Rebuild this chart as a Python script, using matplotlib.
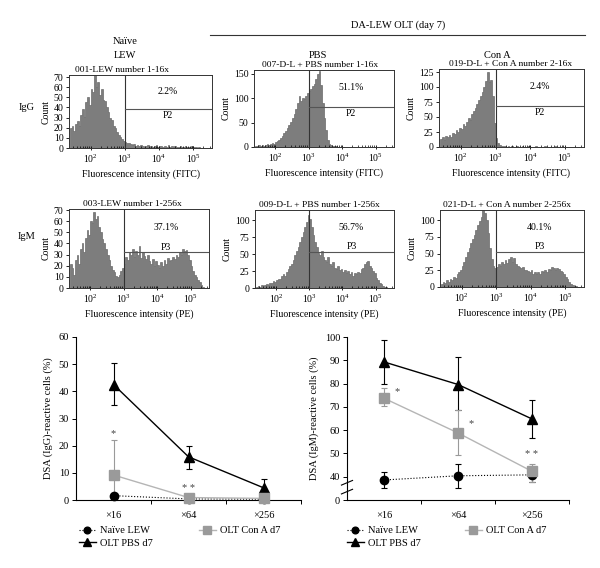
import matplotlib
matplotlib.use("Agg")
import matplotlib.pyplot as plt
import numpy as np
from matplotlib.lines import Line2D
from matplotlib.ticker import LogLocator, NullFormatter, FixedLocator

plt.rcParams["font.family"] = ["Liberation Serif", "DejaVu Serif"]
plt.rcParams["mathtext.fontset"] = "stix"

W, H = 600, 568

# ---- flow cytometry histograms (counts per log bin, 0.05 decade bins from 10^1.4) ----
hist_igg_naive = [
    20, 22, 17, 24, 27, 22, 33, 38, 31, 45,
    50, 42, 58, 55, 72, 60, 65, 52, 58, 47,
    46, 40, 36, 30, 28, 22, 20, 16, 13, 11,
    9, 7, 6, 5, 5, 4, 3, 4, 2, 3,
    2, 3, 2, 1, 2, 3, 1, 2, 1, 2,
    3, 1, 2, 2, 1, 2, 1, 3, 1, 2,
    1, 2, 1, 1, 2, 1, 1, 2, 1, 1,
    1, 2, 1, 1, 0, 1, 0, 0, 0, 0, 0,
]
hist_igg_pbs = [
    3, 2, 4, 3, 5, 3, 4, 6, 4, 7,
    8, 7, 10, 12, 15, 18, 22, 28, 33, 38,
    45, 52, 60, 68, 78, 90, 105, 95, 100, 98,
    105, 110, 115, 120, 125, 130, 140, 150, 155, 128,
    90, 60, 35, 15, 7, 4, 3, 2, 2, 1,
    1, 0, 1, 1, 0, 1, 1, 0, 1, 0,
    1, 0, 1, 0, 0, 1, 0, 1, 0, 0,
    1, 0, 0, 0, 0, 0, 0, 0, 0, 0, 0,
]
hist_igg_cona = [
    14, 17, 12, 18, 16, 20, 17, 24, 22, 28,
    25, 32, 30, 38, 35, 42, 48, 45, 55, 60,
    65, 72, 78, 85, 92, 100, 110, 125, 108, 112,
    85, 40, 15, 6, 3, 2, 1, 1, 0, 1,
    0, 1, 0, 0, 1, 0, 0, 1, 0, 0,
    0, 1, 0, 0, 0, 1, 0, 0, 0, 0,
    1, 0, 0, 0, 0, 0, 1, 0, 0, 0,
    0, 0, 0, 0, 0, 0, 0, 0, 0, 0, 0,
]
hist_igm_naive = [
    22, 18, 12, 25, 30, 22, 35, 40, 32, 45,
    52, 48, 60, 58, 68, 62, 65, 55, 50, 44,
    40, 35, 30, 25, 20, 16, 14, 11, 10, 12,
    15, 18, 22, 28, 25, 32, 30, 35, 28, 33,
    30, 38, 27, 32, 29, 26, 30, 24, 22, 26,
    20, 24, 21, 18, 23, 20, 25, 22, 27, 24,
    25, 28, 26, 30, 28, 32, 30, 35, 33, 34,
    30, 25, 20, 15, 12, 10, 7, 5, 3, 1, 0,
]
hist_igm_pbs = [
    2, 3, 2, 4, 3, 5, 6, 5, 8, 7,
    10, 9, 12, 14, 13, 17, 20, 18, 24, 28,
    32, 36, 42, 48, 55, 60, 68, 75, 82, 90,
    98, 108, 102, 90, 78, 68, 60, 52, 48, 55,
    45, 42, 38, 45, 36, 33, 38, 30, 28, 32,
    26, 28, 24, 27, 22, 25, 20, 23, 18, 22,
    20, 24, 22, 28, 30, 36, 38, 40, 33, 30,
    25, 22, 15, 12, 8, 6, 3, 2, 1, 0, 0,
]
hist_igm_cona = [
    5, 8, 6, 10, 8, 12, 10, 15, 14, 20,
    22, 25, 32, 38, 45, 52, 58, 65, 72, 78,
    85, 92, 98, 105, 115, 110, 100, 80, 58, 42,
    32, 28, 30, 35, 32, 38, 35, 40, 36, 42,
    45, 38, 44, 35, 32, 30, 28, 30, 26, 25,
    24, 22, 26, 20, 23, 19, 22, 20, 24, 22,
    25, 23, 27, 26, 30, 28, 25, 29, 27, 24,
    22, 20, 15, 12, 8, 5, 3, 2, 1, 0, 0,
]

hist_titles = [
    "001-LEW number 1-16x", "007-D-L + PBS number 1-16x", "019-D-L + Con A number 2-16x",
    "003-LEW number 1-256x", "009-D-L + PBS number 1-256x", "021-D-L + Con A number 2-256x",
]
hist_pcts = ["2.2%", "51.1%", "2.4%", "37.1%", "56.7%", "40.1%"]
hist_gates = [38, 82, 68, 32, 53, 53]

# ---- titration summary: mean, lower and upper end of error bar ----
dilutions = ["\u00d716", "\u00d764", "\u00d7256"]

igg_naive = [1.6, 0.4, 0.3]
igg_naive_lo = [1.0, 0.2, 0.1]
igg_naive_hi = [2.2, 0.7, 0.5]
igg_pbs = [42.5, 15.9, 4.5]
igg_pbs_lo = [35.1, 11.5, 1.2]
igg_pbs_hi = [50.4, 20.0, 7.8]
igg_cona = [9.2, 0.9, 0.6]
igg_cona_lo = [0.0, 0.3, 0.2]
igg_cona_hi = [22.2, 1.6, 1.0]

igm_naive = [38.6, 40.4, 40.8]
igm_naive_lo = [35.0, 35.1, 37.9]
igm_naive_hi = [42.2, 45.4, 43.5]
igm_pbs = [89.3, 79.6, 64.8]
igm_pbs_lo = [79.8, 68.6, 56.5]
igm_pbs_hi = [98.6, 91.2, 73.0]
igm_cona = [73.7, 58.8, 42.3]
igm_cona_lo = [70.3, 49.4, 37.8]
igm_cona_hi = [78.0, 68.5, 45.4]

igg_star_x = [0.0, 1.0]
igg_star_y = [24.5, 4.2]
igg_star_txt = ["*", "* *"]
igm_star_x = [0.18, 1.18, 2.0]
igm_star_y = [76.5, 63.0, 49.4]
igm_star_txt = ["*", "*", "* *"]


def box(x0, y0, x1, y1):
    return [x0 / W, 1 - y1 / H, (x1 - x0) / W, (y1 - y0) / H]


fig = plt.figure(figsize=(6, 5.68), dpi=100)

edges = np.logspace(1.4, 5.45, 82)
xmin, xmax = 10 ** 1.37, 10 ** 5.55

hist_data = [hist_igg_naive, hist_igg_pbs, hist_igg_cona,
             hist_igm_naive, hist_igm_pbs, hist_igm_cona]
hist_boxes = [(69, 75, 212, 148), (254, 70, 394, 147), (439, 69, 584, 147),
              (69, 209, 209, 288), (255, 210, 394, 288), (440, 210, 584, 287)]
hist_ymax = [72, 158, 130, 71, 115, 115]
hist_yticks = [range(0, 71, 10), [0, 50, 100, 150], range(0, 126, 25),
               range(0, 71, 10), range(0, 101, 25), range(0, 101, 25)]
title_x = [122, 320, 511, 132, 319, 507]

for k in range(6):
    ax = fig.add_axes(box(*hist_boxes[k]))
    ax.stairs(hist_data[k], edges, fill=True, facecolor="#7d7d7d",
              edgecolor="#555555", linewidth=0.4)
    ax.set_xscale("log")
    ax.set_xlim(xmin, xmax)
    ax.set_ylim(0, hist_ymax[k])
    ax.set_yticks(list(hist_yticks[k]))
    ax.xaxis.set_major_locator(FixedLocator([1e2, 1e3, 1e4, 1e5]))
    ax.xaxis.set_minor_locator(LogLocator(base=10, subs=np.arange(2, 10), numticks=20))
    ax.xaxis.set_minor_formatter(NullFormatter())
    ax.tick_params(axis="x", which="major", direction="inout", length=3, width=0.6,
                   labelsize=7, pad=2)
    ax.tick_params(axis="x", which="minor", direction="in", length=1.5, width=0.5)
    ax.tick_params(axis="y", direction="out", length=2.5, width=0.6, labelsize=7, pad=1.5)
    for s in ax.spines.values():
        s.set_linewidth(0.7)
        s.set_color("#333333")
    ax.axvline(1e3, color="#333333", lw=0.8)
    ax.plot([1e3, xmax], [hist_gates[k]] * 2, color="#555555", lw=0.8)
    ax.text(10 ** 4.27, hist_ymax[k] * 0.77, hist_pcts[k], ha="center", va="center", fontsize=7)
    gname = "P2" if k < 3 else "P3"
    if k < 3:
        ax.text(10 ** 4.27, hist_gates[k] - hist_ymax[k] * 0.02, gname,
                ha="center", va="top", fontsize=7)
    else:
        ax.text(10 ** 4.27, hist_gates[k] + hist_ymax[k] * 0.01, gname,
                ha="center", va="bottom", fontsize=7)
    ax.set_ylabel("Count", fontsize=7, labelpad=2)
    ax.set_xlabel("Fluorescence intensity (FITC)" if k < 3 else "Fluorescence intensity (PE)",
                  fontsize=7, labelpad=3)
    fig.text(title_x[k] / W, 1 - (hist_boxes[k][1] - 1) / H, hist_titles[k],
             ha="center", va="bottom", fontsize=6.8)

# headers
fig.text(125 / W, 1 - 41 / H, "Na\u00efve", ha="center", va="center", fontsize=7.5)
fig.text(125 / W, 1 - 55 / H, "LEW", ha="center", va="center", fontsize=7.5)
fig.text(398 / W, 1 - 25 / H, "DA-LEW OLT (day 7)", ha="center", va="center", fontsize=7.5)
fig.add_artist(Line2D([210 / W, 585 / W], [1 - 35 / H] * 2, color="#333333", lw=0.8))
fig.text(318 / W, 1 - 55 / H, "PBS", ha="center", va="center", fontsize=7.5)
fig.text(497 / W, 1 - 55 / H, "Con A", ha="center", va="center", fontsize=7.5)
fig.text(27 / W, 1 - 108 / H, "IgG", ha="center", va="center", fontsize=7.5)
fig.text(27 / W, 1 - 237 / H, "IgM", ha="center", va="center", fontsize=7.5)


def summary(rect, means, los, his, ylim, yticks, yticklabels, ylabel,
            sx, sy, stxt, leg_anchor, colspace):
    ax = fig.add_axes(box(*rect))
    x = np.arange(len(dilutions))
    styles = [
        ("Na\u00efve LEW", "o", "black", "black", ":", 0.8, 6.0),
        ("OLT PBS d7", "^", "black", "black", "-", 1.0, 7.0),
        ("OLT Con A d7", "s", "#9a9a9a", "#b5b5b5", "-", 1.0, 7.0),
    ]
    handles = []
    for (lab, mk, mc, lc, ls, lw, ms), m, lo, hi in zip(styles, means, los, his):
        m = np.array(m)
        err = [m - np.array(lo), np.array(hi) - m]
        ax.errorbar(x, m, yerr=err, fmt="none", ecolor=mc, elinewidth=0.8,
                    capsize=2.5, capthick=0.8, clip_on=False, zorder=2)
        ax.plot(x, m, color=lc, ls=ls, lw=lw, zorder=3, clip_on=False)
        ax.plot(x, m, ls="none", marker=mk, ms=ms, color=mc, zorder=4, clip_on=False)
        handles.append(Line2D([], [], color=lc, ls=ls, lw=lw, marker=mk, ms=ms * 0.8,
                              markerfacecolor=mc, markeredgecolor=mc))
    for a, b, t in zip(sx, sy, stxt):
        ax.text(a, b, t, ha="center", va="center", fontsize=7.5, color="#444444")
    ax.set_xlim(-0.5, 2.5)
    ax.set_ylim(*ylim)
    ax.set_yticks(yticks)
    ax.set_yticklabels(yticklabels)
    ax.set_xticks(x)
    ax.set_xticklabels(dilutions)
    ax.set_xticks([0.5, 1.5, 2.5], minor=True)
    ax.tick_params(axis="x", which="major", length=0, labelsize=7.5, pad=8)
    ax.tick_params(axis="x", which="minor", length=3, width=0.7, direction="out")
    ax.tick_params(axis="y", length=3, width=0.7, labelsize=7.5, pad=2)
    for s in ["top", "right"]:
        ax.spines[s].set_visible(False)
    for s in ["left", "bottom"]:
        ax.spines[s].set_linewidth(0.8)
    ax.set_ylabel(ylabel, fontsize=7.5, labelpad=4)
    ax.legend(handles, [h[0] for h in styles], ncol=2, loc="upper left",
              bbox_to_anchor=leg_anchor, bbox_transform=fig.transFigure,
              frameon=False, fontsize=7.5, handlelength=1.6, handletextpad=0.45,
              columnspacing=colspace, labelspacing=0.3, borderpad=0, borderaxespad=0)
    return ax


summary((76, 337, 301, 500),
        [igg_naive, igg_pbs, igg_cona], [igg_naive_lo, igg_pbs_lo, igg_cona_lo],
        [igg_naive_hi, igg_pbs_hi, igg_cona_hi],
        (0, 60), list(range(0, 61, 10)), [str(v) for v in range(0, 61, 10)],
        "DSA (IgG)-reactive cells (%)", igg_star_x, igg_star_y, igg_star_txt,
        (79 / W, 1 - 526 / H), 4.4)

ax2 = summary((347, 337, 569, 500),
              [igm_naive, igm_pbs, igm_cona], [igm_naive_lo, igm_pbs_lo, igm_cona_lo],
              [igm_naive_hi, igm_pbs_hi, igm_cona_hi],
              (30, 100), list(range(30, 101, 10)), ["0"] + [str(v) for v in range(40, 101, 10)],
              "DSA (IgM)-reactive cells (%)", igm_star_x, igm_star_y, igm_star_txt,
              (347 / W, 1 - 526 / H), 4.2)
# axis break marks
for yb in (33.6, 37.4):
    ax2.plot([-0.575, -0.425], [yb - 1.0, yb + 1.0], color="black", lw=0.8, clip_on=False)

fig.savefig("out.png", dpi=100, facecolor="white")
